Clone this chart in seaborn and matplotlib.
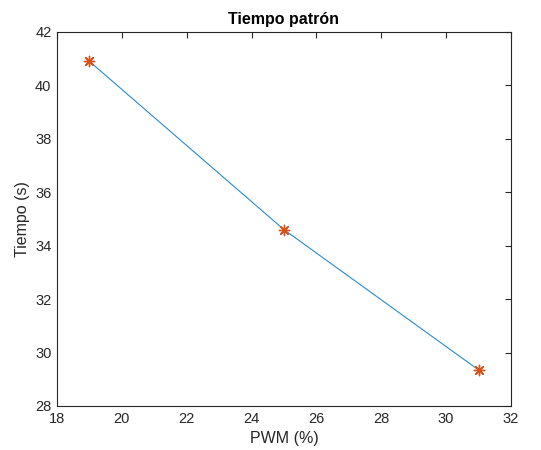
import numpy as np
import pandas as pd
import matplotlib
matplotlib.use('Agg')
import matplotlib.pyplot as plt
import seaborn as sns

pwm = [19, 25, 31]
tiempo = [40.9, 34.6, 29.35]

sns.set_style('white')
plt.rcParams['font.family'] = ['Liberation Sans', 'DejaVu Sans']

df = pd.DataFrame({'pwm': pwm, 'tiempo': tiempo})

fig = plt.figure(figsize=(5.41, 4.5), dpi=100)
ax = fig.add_axes([0.1054, 0.0978, 0.8391, 0.8311])

sns.lineplot(data=df, x='pwm', y='tiempo', color='#2a8ad0', linewidth=0.8, ax=ax)
# asterisk marker like matlab '*'
sns.scatterplot(data=df, x='pwm', y='tiempo', color='#D95319', marker=(8, 2, 0),
                s=55, linewidth=1.0, ax=ax, zorder=3)

ax.set_xlim(18, 32)
ax.set_ylim(28, 42)
ax.set_xticks(np.arange(18, 33, 2))
ax.set_yticks(np.arange(28, 43, 2))
ax.tick_params(direction='in', top=True, right=True, length=4, width=0.8,
               colors='#262626', labelsize=10.5, labelcolor='#262626', pad=4)
for sp in ax.spines.values():
    sp.set_visible(True)
    sp.set_color('#262626')
    sp.set_linewidth(0.8)

ax.set_xlabel('PWM (%)', fontsize=11.5, color='#262626')
ax.set_ylabel('Tiempo (s)', fontsize=11.5, color='#262626')
ax.set_title('Tiempo patrón', fontsize=11.5, fontweight='bold', color='black', pad=6)

fig.savefig('out.png', dpi=100)
